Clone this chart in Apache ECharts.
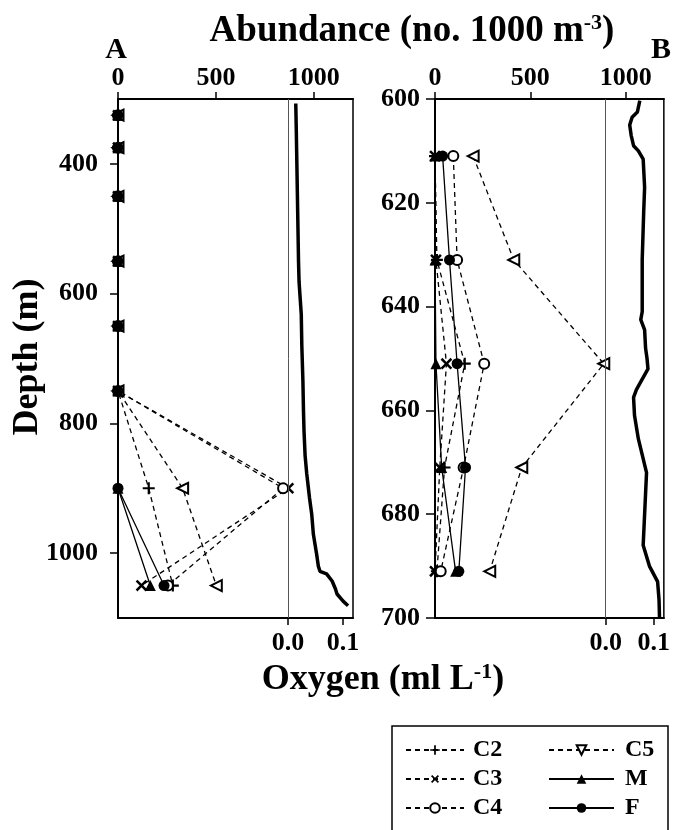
<!DOCTYPE html>
<html>
<head>
<meta charset="utf-8">
<script src="https://cdn.jsdelivr.net/npm/echarts@6/dist/echarts.min.js"></script>
<style>
  html, body { margin: 0; padding: 0; background: #fff; }
  #chart { width: 673px; height: 830px; }
</style>
</head>
<body>
<div id="chart"></div>
<script>
// ---- panel A: net samples, depth (m) and abundance (no. 1000 m-3)
var depthA = [325, 375, 450, 550, 650, 750, 900, 1050];
var c2A = [0, 0, 0, 0, 0, 0, 157, 280];
var c3A = [0, 0, 0, 0, 0, 0, 870, 120];
var c4A = [0, 0, 0, 0, 0, 0, 843, 255];
var c5A = [0, 0, 0, 0, 0, 0, 330, 502];
var mA  = [0, 0, 0, 0, 0, 0, 0, 165];
var fA  = [0, 0, 0, 0, 0, 0, 0, 235];

// ---- panel B
var depthB = [611, 631, 651, 671, 691];
var c2B = [0, 10, 156, 50, 10];
var c3B = [0, 5, 60, 25, 0];
var c4B = [96, 116, 258, 150, 30];
var c5B = [200, 413, 885, 455, 287];
var mB  = [0, 0, 5, 35, 108];
var fB  = [40, 76, 116, 160, 125];

// ---- oxygen profiles (ml L-1)
var oxyDepthA = [307, 350, 400, 450, 500, 550, 582, 632, 680, 735, 780, 812, 850, 878, 915,
                 940, 971, 1002, 1020, 1028, 1032, 1043, 1055, 1063, 1074, 1081];
var oxyA = [0.014, 0.015, 0.016, 0.017, 0.018, 0.019, 0.020, 0.024, 0.025, 0.027, 0.028, 0.029, 0.031, 0.034, 0.039,
            0.043, 0.046, 0.052, 0.055, 0.058, 0.070, 0.080, 0.086, 0.089, 0.100, 0.109];
var oxyDepthB = [600.3, 602.5, 603.5, 605, 607, 609, 610, 611.6, 617, 622, 625, 631, 641, 642.5, 644.5,
                 648, 650, 652, 655, 656, 657.5, 661, 665.5, 672, 680, 686, 690, 693, 696.5, 700];
var oxyB = [0.071, 0.066, 0.055, 0.050, 0.053, 0.058, 0.068, 0.078, 0.081, 0.079, 0.078, 0.076, 0.076, 0.073, 0.081,
            0.083, 0.086, 0.088, 0.070, 0.064, 0.058, 0.060, 0.068, 0.085, 0.081, 0.078, 0.091, 0.108, 0.111, 0.112];

// axis ticks
var abundTicks = [0, 500, 1000];
var oxyTicks = [0, 0.1];
var depthTicksA = [400, 600, 800, 1000];

var FONT = '"Liberation Serif", "Times New Roman", serif';
var plusPath = 'path://M4.1,0H5.9V4.1H10V5.9H5.9V10H4.1V5.9H0V4.1H4.1Z';

var stageStyle = {
    C2: {symbol: plusPath, size: 12, rotate: 0, dash: true},
    C3: {symbol: plusPath, size: 14, rotate: 45, dash: true},
    C4: {symbol: 'emptyCircle', size: 10, rotate: 0, dash: true},
    C5: {symbol: 'emptyTriangle', size: 11, rotate: 90, dash: true},
    M:  {symbol: 'triangle', size: 11, rotate: 0, dash: false},
    F:  {symbol: 'circle', size: 11, rotate: 0, dash: false}
};

function pairs(xs, ys) {
    return xs.map(function (x, i) { return [x, ys[i]]; });
}

function stage(name, depths, vals, xi, yi) {
    var st = stageStyle[name];
    var empty = st.symbol.indexOf('empty') === 0;
    return {
        name: name,
        type: 'line',
        xAxisIndex: xi,
        yAxisIndex: yi,
        data: pairs(vals, depths),
        symbol: st.symbol,
        symbolSize: st.size,
        symbolRotate: st.rotate,
        showAllSymbol: true,
        lineStyle: {color: '#000', width: 1.3, type: st.dash ? [5, 4] : 'solid'},
        itemStyle: {color: '#000', borderColor: '#000', borderWidth: empty ? 1.5 : 0},
        z: 3
    };
}

function oxygen(depths, vals, xi, yi) {
    return {
        name: 'O2',
        type: 'line',
        xAxisIndex: xi,
        yAxisIndex: yi,
        data: pairs(vals, depths),
        symbol: 'none',
        lineStyle: {color: '#000', width: 3.5},
        z: 2,
        markLine: {
            silent: true,
            symbol: ['none', 'none'],
            label: {show: false},
            lineStyle: {color: '#555', width: 1, type: 'solid'},
            data: [{xAxis: 0}]
        }
    };
}

var labelFont = {fontFamily: FONT, fontWeight: 'bold', fontSize: 26, color: '#000'};
var plainNum = function (v) { return String(v); };

function abundAxis(grid) {
    return {
        gridIndex: grid, type: 'value', position: 'top', min: 0, max: 1200,
        axisLine: {show: true, onZero: false, lineStyle: {color: '#000', width: 2}},
        axisTick: {show: true, length: 7, customValues: abundTicks, lineStyle: {color: '#000', width: 1.5}},
        axisLabel: Object.assign({customValues: abundTicks, margin: 8, formatter: plainNum}, labelFont),
        splitLine: {show: false}
    };
}

function oxyAxis(grid, lo, hi) {
    return {
        gridIndex: grid, type: 'value', position: 'bottom', min: lo, max: hi,
        axisLine: {show: true, onZero: false, lineStyle: {color: '#000', width: 2}},
        axisTick: {show: true, length: 7, customValues: oxyTicks, lineStyle: {color: '#000', width: 1.5}},
        axisLabel: Object.assign({customValues: oxyTicks, margin: 12,
            formatter: function (v) { return v.toFixed(1); }}, labelFont),
        splitLine: {show: false}
    };
}

var chart = echarts.init(document.getElementById('chart'));

var option = {
    animation: false,
    backgroundColor: '#fff',
    grid: [
        {left: 118, top: 99, width: 235, height: 519, show: true, borderColor: '#000', borderWidth: 1.5},
        {left: 435, top: 99, width: 236, height: 519, show: true, borderColor: '#000', borderWidth: 1.5}
    ],
    xAxis: [
        abundAxis(0),
        oxyAxis(0, -0.309, 0.118),
        abundAxis(1),
        oxyAxis(1, -0.355, 0.121)
    ],
    yAxis: [
        {
            gridIndex: 0, type: 'value', inverse: true, min: 300, max: 1100,
            axisLine: {show: true, onZero: false, lineStyle: {color: '#000', width: 2}},
            axisTick: {show: true, length: 8, customValues: depthTicksA, lineStyle: {color: '#000', width: 1.5}},
            axisLabel: Object.assign({customValues: depthTicksA, margin: 20, formatter: plainNum}, labelFont),
            splitLine: {show: false}
        },
        {
            gridIndex: 1, type: 'value', inverse: true, min: 600, max: 700, interval: 20,
            axisLine: {show: true, onZero: false, lineStyle: {color: '#000', width: 2}},
            axisTick: {show: true, length: 9, lineStyle: {color: '#000', width: 1.5}},
            axisLabel: Object.assign({margin: 15, formatter: plainNum}, labelFont),
            splitLine: {show: false}
        }
    ],
    legend: [
        {
            orient: 'vertical', left: 400, top: 733, itemWidth: 58, itemHeight: 12, itemGap: 5,
            selectedMode: false,
            data: ['C2', 'C3', 'C4'],
            textStyle: {fontFamily: FONT, fontWeight: 'bold', fontSize: 24, color: '#000', padding: [0, 0, 0, 4]}
        },
        {
            orient: 'vertical', left: 543, top: 733, itemWidth: 65, itemHeight: 12, itemGap: 5,
            selectedMode: false,
            data: [{name: 'C5', symbolRotate: 180}, 'M', 'F'],
            textStyle: {fontFamily: FONT, fontWeight: 'bold', fontSize: 24, color: '#000', padding: [0, 0, 0, 6]}
        }
    ],
    graphic: [
        {
            type: 'text', x: 412, y: 31,
            style: {
                text: '{a|Abundance (no. 1000 m}{b|-3}{a|)}',
                align: 'center', verticalAlign: 'middle',
                rich: {
                    a: {fontFamily: FONT, fontWeight: 'bold', fontSize: 37, lineHeight: 38, fill: '#000'},
                    b: {fontFamily: FONT, fontWeight: 'bold', fontSize: 22, lineHeight: 22, verticalAlign: 'top', fill: '#000'}
                }
            }
        },
        {type: 'text', x: 116, y: 50, style: {text: 'A', font: 'bold 30px ' + FONT, fill: '#000', align: 'center', verticalAlign: 'middle'}},
        {type: 'text', x: 661, y: 50, style: {text: 'B', font: 'bold 30px ' + FONT, fill: '#000', align: 'center', verticalAlign: 'middle'}},
        {
            type: 'text', x: 28, y: 357, rotation: Math.PI / 2,
            style: {text: 'Depth (m)', font: 'bold 36px ' + FONT, fill: '#000', align: 'center', verticalAlign: 'middle'}
        },
        {
            type: 'text', x: 383, y: 680,
            style: {
                text: '{a|Oxygen (ml L}{b|-1}{a|)}',
                align: 'center', verticalAlign: 'middle',
                rich: {
                    a: {fontFamily: FONT, fontWeight: 'bold', fontSize: 36, lineHeight: 38, fill: '#000'},
                    b: {fontFamily: FONT, fontWeight: 'bold', fontSize: 22, lineHeight: 22, verticalAlign: 'top', fill: '#000'}
                }
            }
        },
        {
            type: 'rect', shape: {x: 392, y: 726, width: 276, height: 120},
            style: {fill: 'none', stroke: '#000', lineWidth: 1.5}
        }
    ],
    series: [
        oxygen(oxyDepthA, oxyA, 1, 0),
        stage('C2', depthA, c2A, 0, 0),
        stage('C3', depthA, c3A, 0, 0),
        stage('C4', depthA, c4A, 0, 0),
        stage('C5', depthA, c5A, 0, 0),
        stage('M', depthA, mA, 0, 0),
        stage('F', depthA, fA, 0, 0),
        oxygen(oxyDepthB, oxyB, 3, 1),
        stage('C2', depthB, c2B, 2, 1),
        stage('C3', depthB, c3B, 2, 1),
        stage('C4', depthB, c4B, 2, 1),
        stage('C5', depthB, c5B, 2, 1),
        stage('M', depthB, mB, 2, 1),
        stage('F', depthB, fB, 2, 1)
    ]
};

chart.setOption(option);
</script>
</body>
</html>
